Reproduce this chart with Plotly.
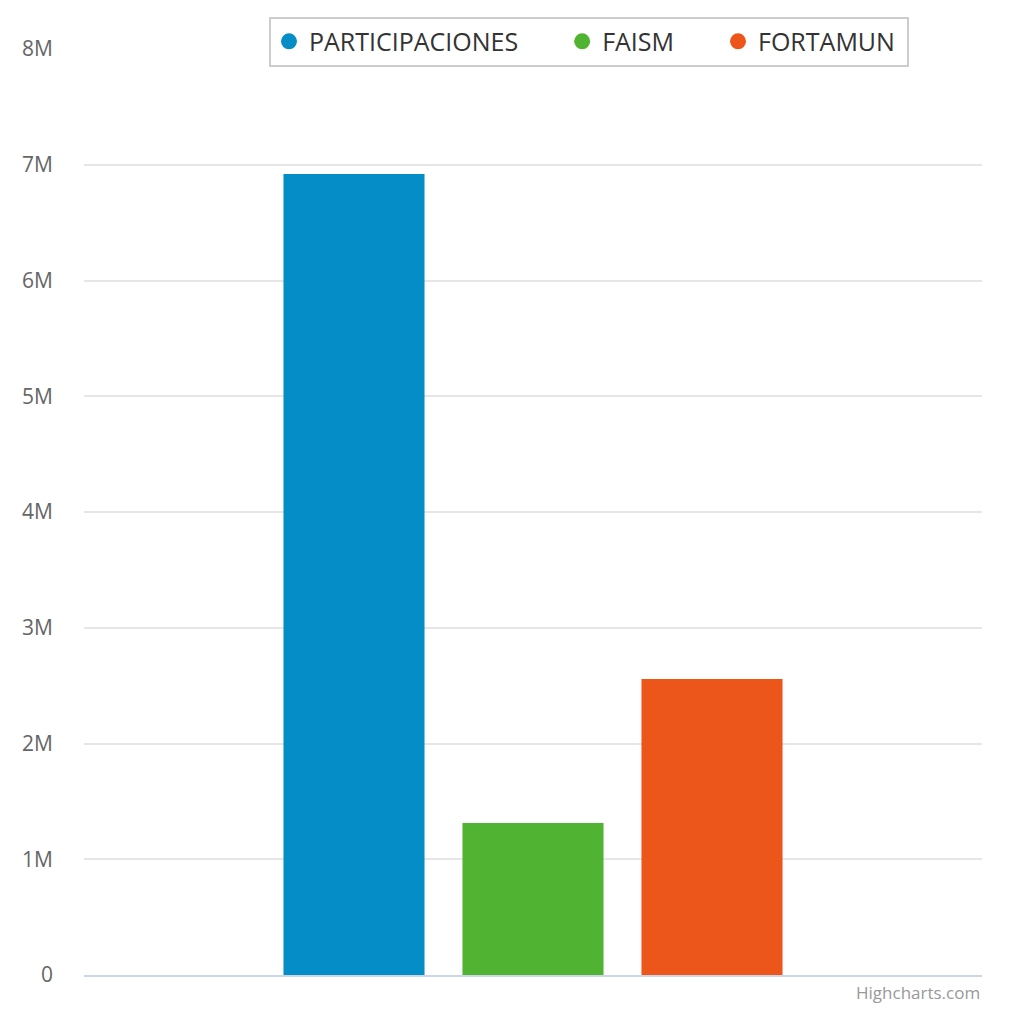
import plotly.graph_objects as go

# single category, three funding sources
categories = ["Monto"]
series_names = ["PARTICIPACIONES", "FAISM", "FORTAMUN"]
series_values = [[6920000], [1313000], [2557000]]
series_colors = ["#058dc7", "#50b432", "#ed561b"]

tick_values = [0, 1e6, 2e6, 3e6, 4e6, 5e6, 6e6, 7e6, 8e6]
tick_labels = ["0", "1M", "2M", "3M", "4M", "5M", "6M", "7M", "8M"]

FONT = "Open Sans, Noto Sans, sans-serif"
NBSP = "\u00a0"

fig = go.Figure()

for i, (name, vals, color) in enumerate(zip(series_names, series_values, series_colors)):
    fig.add_trace(go.Bar(
        x=categories, y=vals,
        name=name,
        marker=dict(color=color, line=dict(width=0)),
        showlegend=False,
        legendgroup=name,
    ))
    # legend entry with a round symbol, like the original; padded for spacing
    pad = NBSP * (1 if i == len(series_names) - 1 else 6)
    fig.add_trace(go.Scatter(
        x=[None], y=[None],
        mode="markers",
        name=name + pad,
        legendgroup=name,
        marker=dict(color=color, size=18, symbol="circle"),
        showlegend=True,
    ))

fig.update_layout(
    width=1012, height=1009,
    margin=dict(l=84, r=30, t=49, b=34),
    paper_bgcolor="white",
    plot_bgcolor="white",
    barmode="group",
    bargap=0.402,
    bargroupgap=0.212,
    font=dict(family=FONT),
    showlegend=True,
    legend=dict(
        orientation="h",
        x=0.206, xanchor="left",
        y=1.035, yanchor="top",
        bgcolor="white",
        bordercolor="#cccccc",
        borderwidth=2,
        font=dict(size=25, color="#333333", family=FONT),
    ),
    xaxis=dict(
        showticklabels=False,
        showgrid=False,
        zeroline=False,
        showline=True,
        linecolor="#ccd6eb",
        linewidth=2,
        ticks="",
    ),
    yaxis=dict(
        range=[0, 8e6],
        tickvals=tick_values,
        ticktext=tick_labels,
        showgrid=True,
        gridcolor="#e6e6e6",
        gridwidth=2,
        zeroline=False,
        showline=False,
        ticks="",
        ticklabelstandoff=30,
        tickfont=dict(size=21, color="#666666", family=FONT),
    ),
    annotations=[dict(
        text="Highcharts.com",
        xref="paper", yref="paper",
        x=1, y=0, xanchor="right", yanchor="top",
        yshift=-4,
        showarrow=False,
        font=dict(size=17, color="#999999", family=FONT),
    )],
)

# page has a default 8px body margin; remove it so the figure sits at 0,0
fig.write_html(
    "out.html",
    config={"displayModeBar": False},
    post_script="document.body.style.margin='0';",
)
